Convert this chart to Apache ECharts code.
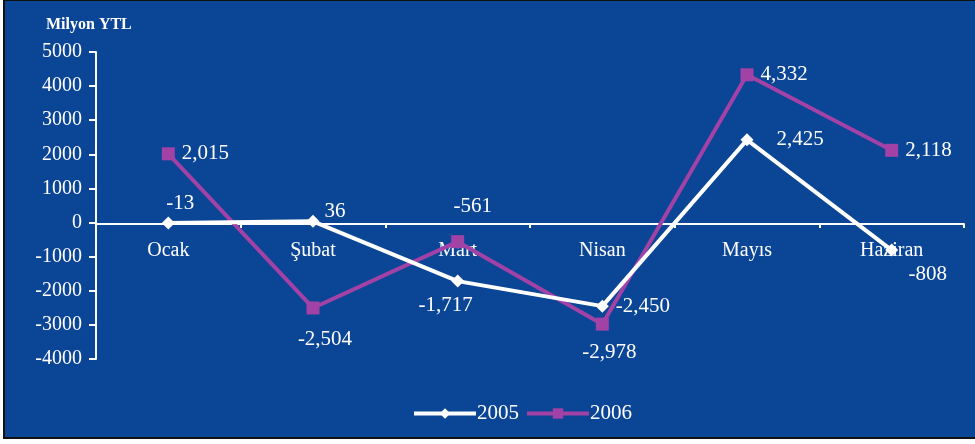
<!DOCTYPE html>
<html><head><meta charset="utf-8">
<script src="https://cdn.jsdelivr.net/npm/echarts@6/dist/echarts.min.js"></script>
<style>html,body{margin:0;padding:0;background:#fff}#c{width:975px;height:444px}</style>
</head><body><div id="c"></div>
<script>
const categories = ['Ocak', 'Şubat', 'Mart', 'Nisan', 'Mayıs', 'Haziran'];
const values2005 = [-13, 36, -1717, -2450, 2425, -808];
const values2006 = [2015, -2504, -561, -2978, 4332, 2118];
const seriesNames = ['2005', '2006'];
const yTicks = { min: -4000, max: 5000, interval: 1000 };

const pos2005 = [
  {position: 'top', offset: [12, 2]},
  {position: 'right', offset: [0, -10]},
  {position: 'bottom', offset: [-12, 2]},
  {position: 'right', offset: [2, 0]},
  {position: 'right', offset: [18, 0]},
  {position: 'bottom', offset: [36, 2]}
];
const pos2006 = [
  {position: 'right', offset: [2, 0]},
  {position: 'bottom', offset: [12, 10]},
  {position: 'top', offset: [15, -13]},
  {position: 'bottom', offset: [7, 6]},
  {position: 'right', offset: [2, 0]},
  {position: 'right', offset: [2, 0]}
];
const fmt = p => Number(p.value).toLocaleString('en-US');
const serif = '"Liberation Serif","DejaVu Serif",serif';
function items(vals, pos) {
  return vals.map((v, i) => ({ value: v, label: Object.assign({}, pos[i]) }));
}
const chart = echarts.init(document.getElementById('c'));
chart.setOption({
  backgroundColor: '#ffffff',
  animation: false,
  graphic: [
    { type: 'rect', shape: { x: 4, y: 0, width: 975, height: 438 }, style: { fill: '#0b4596', stroke: '#111', lineWidth: 2 }, z: -10 }
  ],
  title: { text: 'Milyon YTL', left: 41, top: 12, textStyle: { color: '#fff', fontFamily: serif, fontSize: 16, fontWeight: 'bold' } },
  legend: {
    bottom: 15, left: 407, itemWidth: 62, itemHeight: 13, itemGap: 6,
    lineStyle: { width: 4 },
    textStyle: { color: '#fff', fontFamily: serif, fontSize: 21, padding: [0, 0, 0, -4] },
    data: seriesNames
  },
  grid: { left: 96, right: 11, top: 52, bottom: 85, containLabel: false },
  xAxis: {
    type: 'category', data: categories, boundaryGap: true,
    offset: -135,
    axisLine: { onZero: false, lineStyle: { color: '#fff', width: 2 } },
    axisTick: { show: true, length: 4, lineStyle: { color: '#fff', width: 2 } },
    axisLabel: { color: '#fff', fontFamily: serif, fontSize: 20, margin: 17 },
    z: 1
  },
  yAxis: {
    type: 'value', min: yTicks.min, max: yTicks.max, interval: yTicks.interval,
    axisLine: { show: true, lineStyle: { color: '#fff', width: 2 } },
    axisTick: { show: true, length: 7, lineStyle: { color: '#fff', width: 2 } },
    axisLabel: { color: '#fff', fontFamily: serif, fontSize: 20, margin: 14, formatter: v => String(v) },
    splitLine: { show: false }
  },
  series: [
    {
      name: seriesNames[0], type: 'line', data: items(values2005, pos2005),
      symbol: 'diamond', symbolSize: 13,
      lineStyle: { color: '#ffffff', width: 4 }, itemStyle: { color: '#ffffff' },
      label: { show: true, color: '#fff', fontFamily: serif, fontSize: 21, formatter: fmt },
      z: 4
    },
    {
      name: seriesNames[1], type: 'line', data: items(values2006, pos2006),
      symbol: 'rect', symbolSize: 13,
      lineStyle: { color: '#a342a6', width: 4 }, itemStyle: { color: '#a342a6' },
      label: { show: true, color: '#fff', fontFamily: serif, fontSize: 21, formatter: fmt },
      z: 3
    }
  ]
});
</script></body></html>
